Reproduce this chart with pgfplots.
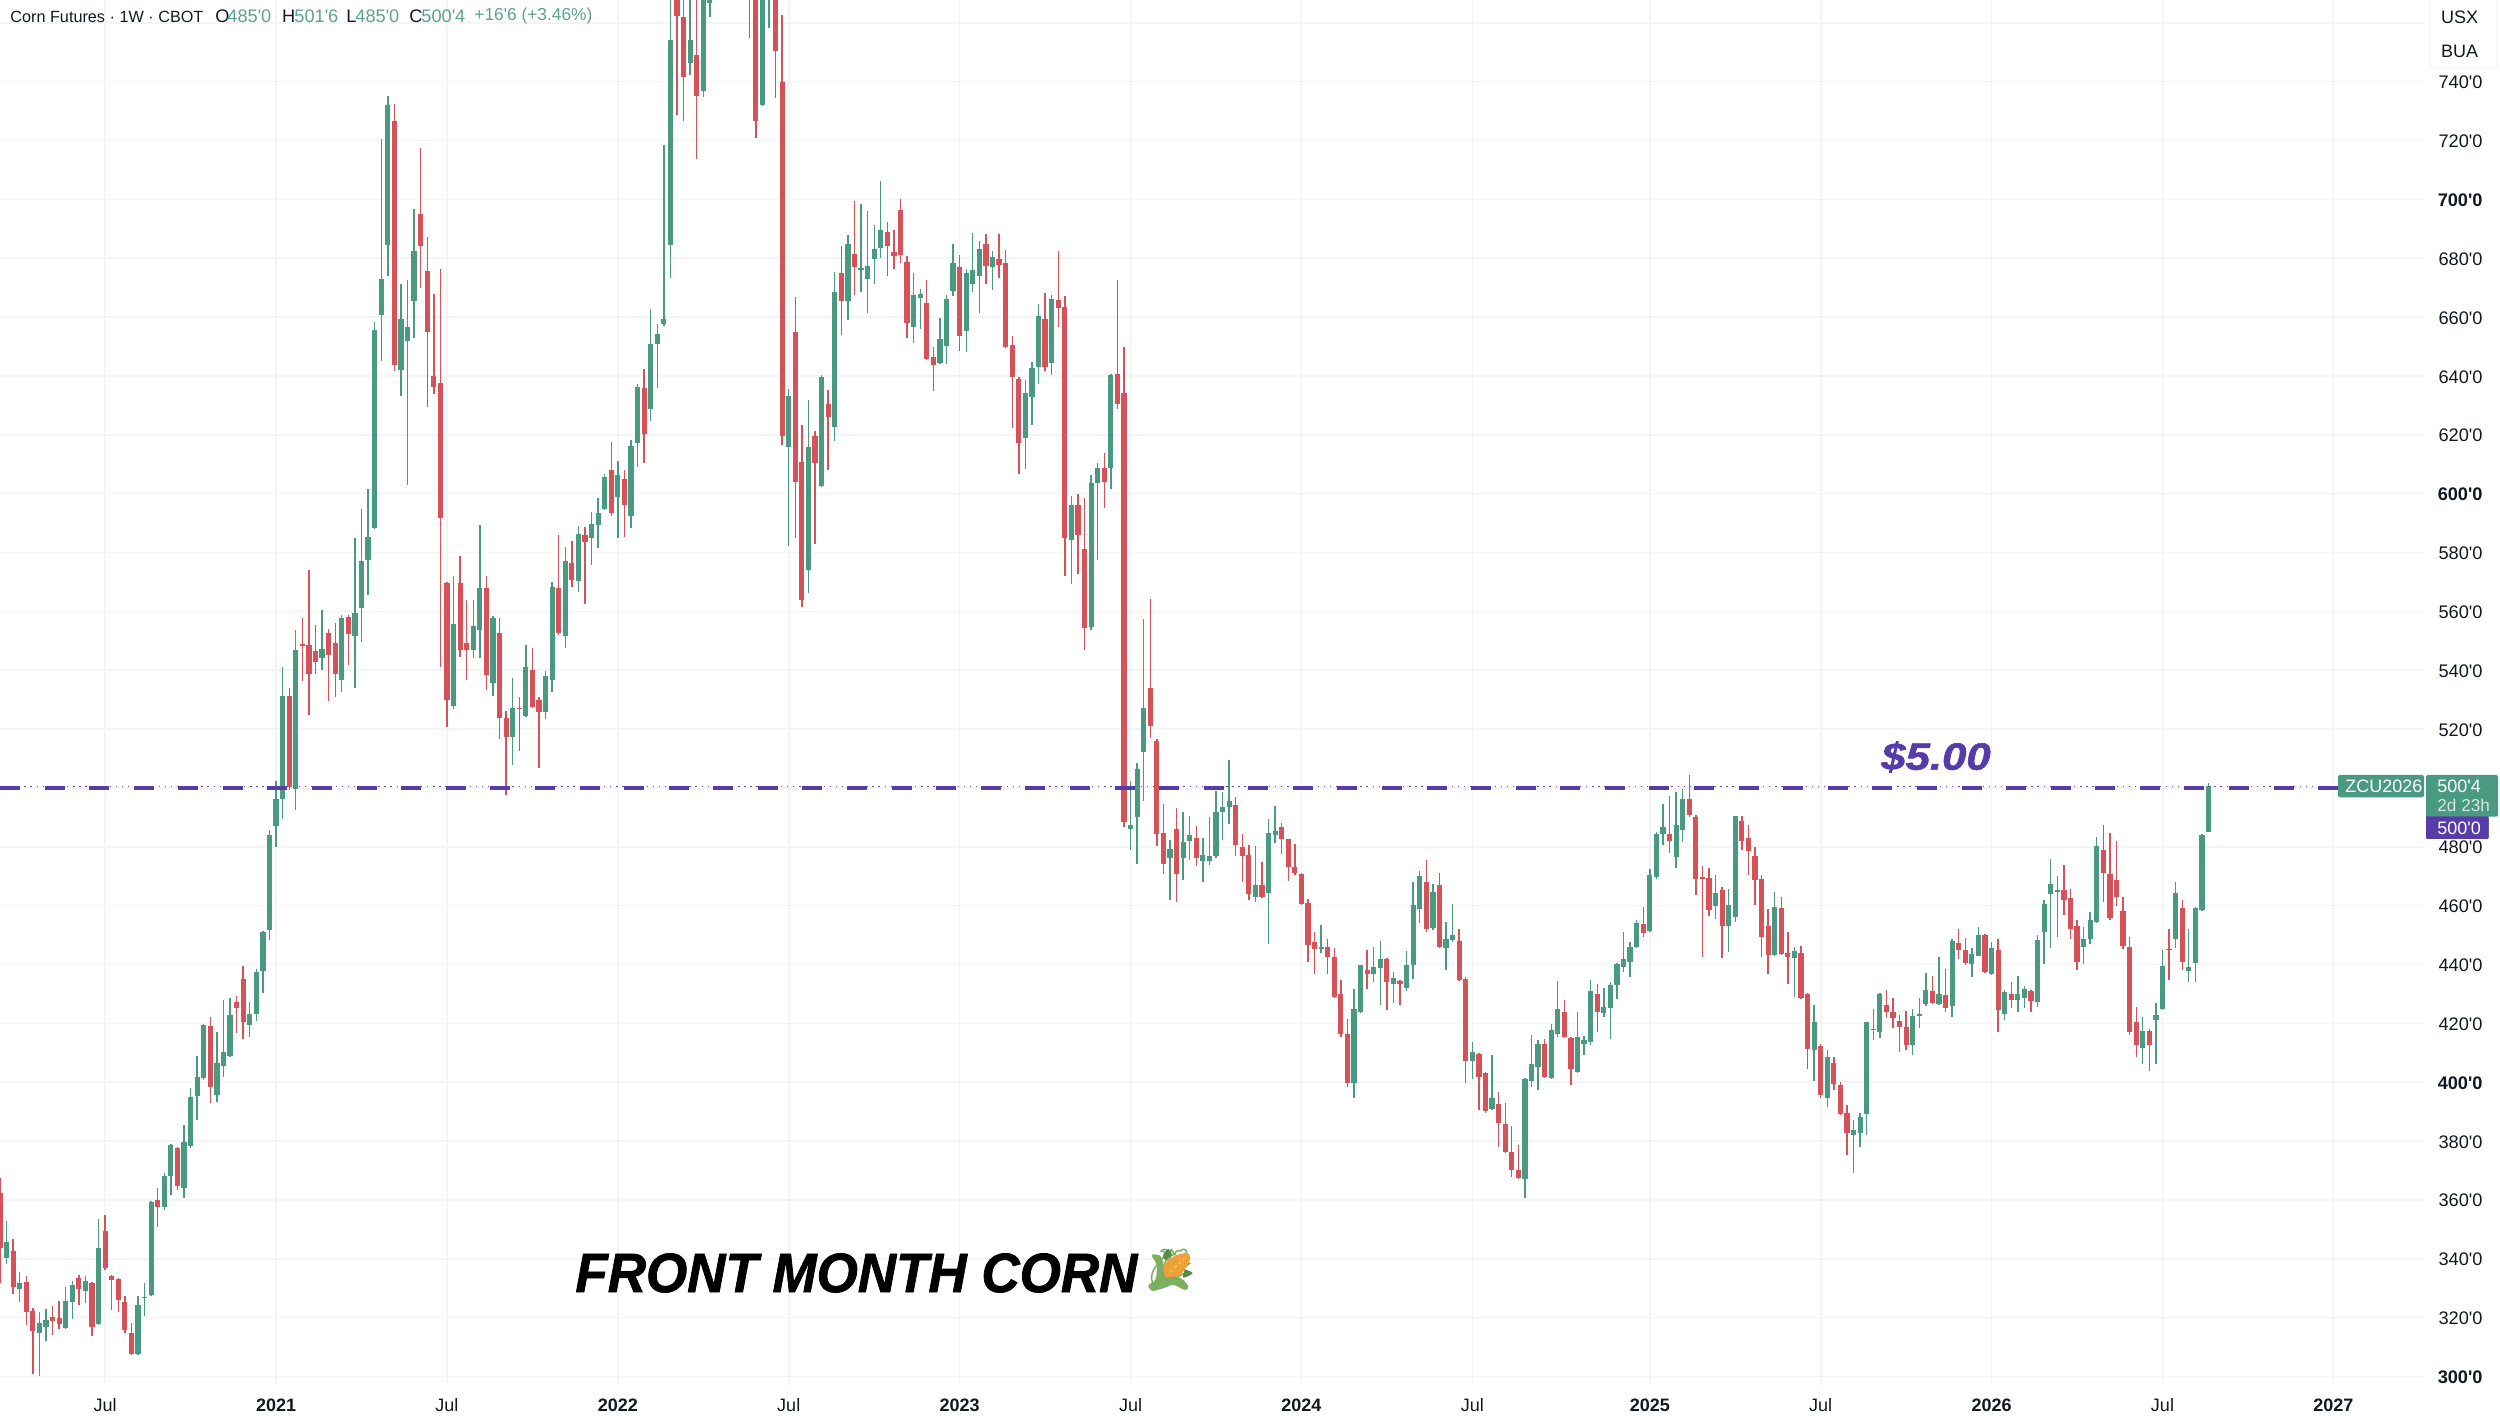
\documentclass[border=0pt]{standalone}
\usepackage{fontspec}
\usepackage{graphicx}
\usepackage{pgfplots}
\usepackage{pgfplotstable}
\pgfplotsset{compat=1.18}
\newfontfamily\lib{Liberation Sans}
\newfontfamily\heavy{Liberation Sans}[BoldItalicFeatures={FakeBold=1.4}]
\newfontfamily\emo{Noto Emoji}
\definecolor{upc}{RGB}{74,153,129}
\definecolor{dnc}{RGB}{214,82,88}
\definecolor{gridc}{RGB}{243,244,246}
\definecolor{purp}{RGB}{86,60,168}
\definecolor{inkc}{RGB}{19,23,34}
\definecolor{hdrg}{RGB}{92,162,141}
\definecolor{husk}{RGB}{124,176,96}
\definecolor{huskd}{RGB}{88,140,70}
\definecolor{ear}{RGB}{238,160,60}
\pgfplotstableread{
i o h l c
1 340.1 352.7 338.2 345.7
3 329.6 335.4 325.4 331.6
6 314.6 322 300.3 318.3
7 316.7 322.8 312.2 319.2
10 316.4 330.5 316 325.7
11 325.4 332.4 319.4 331.1
13 329 334.3 324.9 332.4
15 317.8 353.5 317.4 343.7
21 307.5 327.4 307.3 324.4
22 326.5 331.9 320.5 327
23 327.7 359.6 327.5 359.3
25 357.7 369.3 356.5 368.2
26 368.1 379 361.7 378.6
28 364 385.4 360.6 379.7
29 378.4 398.1 377.8 394.8
30 395.3 408.9 387.3 401.6
31 401.3 419.9 400.6 419.4
33 395.6 417 393.1 406.6
34 405.5 427.9 401.6 410.2
35 408.8 428.5 408.7 423
38 419.6 427.4 415.2 423.3
39 423.2 438.3 420.7 437.4
40 437.7 451.3 430.2 450.9
41 451.6 485.6 448.2 484
42 487.2 502.5 479.8 496.1
43 496.2 541.2 489.5 531.4
45 499.8 553.5 492.6 546.8
49 544 560.6 540.2 547.1
52 536.8 558.7 532.6 557.6
54 551.5 585 533.8 559.6
55 561.1 594.8 549.7 577
56 577.6 601.6 565.5 585.4
57 588.4 658.5 588 655.5
58 660.8 720.4 645.2 673.1
59 684.6 735.1 674 732.1
61 642.1 671.3 633.2 659.3
62 652 672.6 602.8 656.7
63 665.6 696.6 652.9 682.5
69 527.9 572 526.8 555.6
72 547 563.7 544 554.9
73 553.8 589.2 544 568.1
75 535.6 558.4 531.3 557.9
78 517.4 537.4 507.7 527
80 524.4 548.5 524 541.2
83 525.8 539.9 523.3 537.9
84 536.8 570 532.6 568.2
86 551.7 582 547.6 577
88 570.2 589 566.7 586.4
90 584.9 593.9 575.8 589.6
91 589.5 598.6 581.4 593.3
92 594.8 606.6 594.5 605.7
94 598.9 611 584.9 606.5
96 592.5 618.3 588.4 616.3
97 617.2 637.3 609.2 636.1
99 628.6 662.6 624.8 650.8
100 650.8 657.8 635.8 654.1
101 657.5 718.5 657 659.3
102 684.6 772 673.4 754.1
105 746.4 771 742.4 754
107 736.8 780 734.7 772
108 766.6 780 762 770
116 732 780 731.7 772
117 770 780 758.4 775
120 616 635.4 582.3 633.2
123 574.1 631.7 566.3 616
125 602.7 640.3 602.1 639.8
127 622.5 675.2 617.8 668.5
129 665.6 687.8 659.1 684.8
131 676 698.3 668.4 676.6
132 672.9 696 661.5 677.3
133 679.8 691.4 671.4 683.1
134 683.6 706.3 680.1 689.6
139 656.8 674.9 651.2 667.6
140 666.4 669.7 655.8 667.8
143 644.4 659.7 644 652.7
144 650.3 667.6 644.1 666.1
145 668.8 684.8 667.3 678.4
147 655.3 676.4 648.3 674.9
148 671.3 688.7 668.5 676.1
149 673.8 685.8 661.5 683.1
151 677 682.5 669.1 680.5
156 618.9 638.5 608.4 634.1
157 632.9 644.6 623.2 642.7
158 642.9 664.3 637.3 660.5
160 644.4 667.6 640.3 666.1
163 584.2 599.3 569.3 596.3
166 554.6 606.2 553.5 603.7
167 603.6 610.4 577.6 608.7
169 608.7 640.8 601.6 640.3
172 486 502.2 479 487.4
173 490 508.4 474.1 506.5
174 512.1 557.5 495.4 527
178 476.1 482.4 462 479.4
180 476.3 491.7 468.6 481.5
181 482 490.3 475.6 483.9
183 475.1 482.9 467.9 477.2
184 475.1 490.1 473.8 476.7
185 476.7 498.9 476.1 491.9
186 491.7 498.6 482.4 493.4
187 493.4 509.5 487.8 495.5
191 463 480.3 461.1 467
193 464.2 489.6 447 484.8
194 483.9 493.7 481.2 485.4
201 445.4 453.3 443.9 446.1
206 399.7 431.8 394.6 424.8
207 423.7 439.9 423.4 439.7
209 436.8 445.8 434 439.1
210 438.9 448 426.1 442
212 433.5 437.4 426.9 435.4
214 432.1 444.6 431 439.9
215 439.9 468.2 435 460.3
216 458.8 471.8 454.1 469.9
218 452.4 467.3 451.8 464.8
220 445.6 454.3 438.2 448.7
221 448.4 460.5 447.8 450.1
224 407.3 413.8 401.1 410.4
227 390.8 409.4 390.5 394.6
232 367 401.4 360.6 401
233 400.3 415.9 398.5 406.2
234 405.3 414.2 397.2 413
236 401.4 419.7 401.2 417.8
237 416.3 434.3 415.5 424.8
240 403.4 423.8 403.2 415.2
241 413 415.8 409.3 414.4
242 413.7 434.8 412.7 431
244 423.5 432 422.3 425.4
245 425.2 433.9 414.8 432.9
246 432.9 440.5 428.3 440.1
247 439.2 451.2 437.6 441.9
248 441 447.6 435.7 446.1
249 445.8 455 445.5 454.1
251 451.3 472.4 451 470.5
252 469.6 485.1 469.2 484.3
253 484.2 494.5 480.5 486.6
255 476.6 498.6 472.7 487.5
256 485.6 499.6 481.5 496.3
261 460 470.3 455.4 464.2
263 453.1 465.8 444.1 460.2
264 456 490.6 454.4 490.3
270 443.2 464.8 443 459.5
273 442.2 445.9 429.1 444.5
276 411 426.3 400.5 420.3
278 394.5 411 391.5 408.5
282 382.2 387 369.1 383.8
283 382.9 389.5 377.9 388.3
284 389.1 420.5 381.9 420.3
285 417.8 424.8 414.4 418.2
286 416.9 430.3 415 429.9
291 412.7 424.8 409.3 422.4
292 422.5 428.6 418.4 423.1
293 426.6 437.1 426 431.4
295 426.5 442.7 426.3 430
297 425.8 448.6 422.3 447.9
300 440.1 445.6 435.6 443.6
301 443 452.9 442.8 450
303 436.9 447.8 436.5 445.6
305 423.3 431.4 421 430.8
307 428.1 436.1 424 430
308 428.6 432.7 425.2 431.6
310 427.1 450 425.4 448.4
311 450.9 461.8 440.2 460.4
312 463.9 475.9 445.6 467.3
313 464.7 470.1 449.3 465.4
317 445.9 452.7 440.1 448.8
318 448.8 457.7 446.8 455
319 454.3 483.3 454.1 480.1
326 411.6 422.1 406.2 417.5
328 421 426.9 406.2 422.9
329 424.9 444.8 424.7 439.5
331 448.8 467.9 445.6 464.2
333 437.7 452 434.2 439.1
334 440.5 459.5 434 459.1
335 458.4 484.2 458.2 483.9
336 485 501.75 485 500.5
}\uptable
\pgfplotstableread{
i o h l c
0 362.4 367.6 331.9 343.7
2 342.7 346.6 328 330.5
4 332.2 334 317.4 322
5 322.4 323.3 300.8 315.5
8 320.3 323.9 314.2 318.9
9 319.9 325.5 316.1 317.8
12 333.5 334.6 324.4 329.7
14 331.9 332.2 313.6 316.7
16 349.3 354.9 336.2 336.8
17 334.3 334.5 322.5 332.7
18 333 333.5 322 326
19 325.2 327.2 314.6 315.8
20 314.9 318.3 307.3 307.5
24 359.8 364 350.9 357.7
27 377.5 378.1 363.2 364.8
32 419.1 422.2 393 398.3
36 427.4 429.4 416.6 425.2
37 435.1 439.4 414.6 420.3
44 531.4 534 499.4 500.2
46 548.8 557.8 536.4 548.3
47 548.7 574 524.7 538.6
48 546.7 555.3 538.6 542.7
50 552.6 554.1 529.4 545.3
51 549.3 556 531 538.6
53 558.1 558.7 541.7 552.3
60 726.5 732.4 641.8 643.6
64 694.9 717.4 669.9 684.3
65 675.7 687.3 629.4 655
66 640 668 634 636.2
67 637.6 676.3 541 591.7
68 569.7 570 520.8 530
70 569.7 578.7 544.4 547
71 549.1 563.7 536.8 546.8
74 568.1 572 533.3 538.3
76 552.7 557.9 516.6 523.9
77 523.9 526.1 497.7 517.4
79 527.3 531 512.7 526.8
81 540.2 547.4 527 527.5
82 530 531 506.9 525.7
85 567.9 586 552 552.6
87 576.3 583.9 568.2 570.8
89 586 588.7 562.6 583.7
93 608.1 617.5 592.5 593.3
95 605.1 608 585.4 596.3
98 635.8 642.3 610.4 620.3
103 772 780 728.6 762.3
104 762 772 726.8 741.5
106 749 771 713.6 735
114 775 780 755 770
115 772 780 720.7 726.8
118 772 780 734.4 750.3
119 739.8 762.5 616.5 619.5
121 654.9 666.9 584.9 603.9
122 610.6 623.3 561.4 564
124 619.5 621.3 583 610.3
126 630.3 635.3 608.1 625.9
128 674.9 684 654 665.6
130 681.3 699.3 667.5 677
135 689 692.2 674 684
136 682 689.5 676.3 680.7
137 696.3 700 678.5 681
138 678.8 680.7 652.9 657.9
141 664.7 672.5 645.5 645.9
142 646.4 649.7 635 643.8
146 677 681 648.5 653.7
150 684.8 688.4 671.4 677.3
152 679.8 688.1 673.2 677.6
153 678.4 682.8 649.7 650
154 650.5 653.7 622.4 639.5
155 638.8 639.5 606.8 617.1
159 659.3 668.2 641.8 643
161 665.8 682.3 656.5 663.2
162 663.4 667.3 572 584.9
164 596.3 599.8 572.6 586
165 581.1 598.6 547 554.3
168 608.7 613.7 595.1 603.9
170 640.6 672.5 628.9 630.4
171 634.2 649.7 486.7 488.3
175 533.8 564.1 516.8 520.9
176 516.1 516.5 480.1 484.2
177 484.6 494.6 470.7 474.3
179 485.9 493.1 461.1 470.6
182 482.9 486.9 473.3 476.1
188 494.2 496.9 477 480.5
189 480 484.3 468.1 477
190 477.3 480.6 461.8 463.9
192 467 474.8 462.7 463
195 486.7 488 477.5 482.8
196 482.5 482.7 468.3 473
197 473 481 470.5 471
198 470.6 471 460.3 460.5
199 460.9 462.4 441 446.7
200 447.7 451.2 436.8 445.4
202 446.1 448.8 436.7 442.7
203 442.7 445.6 428.6 428.8
204 430 434.6 415.2 416.4
205 416.3 421.4 398.5 399.7
208 438.2 445 431.8 436.7
211 442 442.2 424.4 434.1
213 434.4 434.8 426.2 433.4
217 468.1 475.6 451.2 452
219 467.1 471 445.7 445.9
222 448 452 434.4 434.8
223 435 435.9 399.7 407.3
225 409.5 410 390.6 401.7
226 403.1 403.3 389.7 390.3
228 392.6 396.8 378.1 386.3
229 385.8 392.9 376 376.4
230 376.2 385.2 367.7 370.2
231 370.2 378.5 367.2 367.4
235 413 414.7 401.4 401.6
238 423.8 428 415.3 415.5
239 415 415.3 399 404.5
243 429.9 433.4 417.1 423.9
250 453.8 459.7 449.3 450.7
254 484.4 497.3 477.8 481.8
257 496.3 504.5 490.1 490.9
258 490.1 490.9 463.7 469.2
259 469.7 473.3 442.7 469
260 469.3 472.7 456.5 458.6
262 465.2 466.3 442.2 453.1
265 488.8 490.3 479 482
266 483.1 487.4 470.5 478.6
267 477 479.9 460.3 468.8
268 469 470.5 442.5 449.4
269 453.1 458.8 436.7 443.3
271 459.1 462.9 443.2 443.6
272 443.9 451 433.5 442.4
274 443.9 446.3 428.6 428.7
275 429.9 430.2 404.4 411.3
277 412.4 413 394.7 395.8
279 406.5 408.7 397.4 399.4
280 398.9 399.9 389.1 389.2
281 389.5 392.3 375.1 382.8
287 426.3 431.4 421.8 423.7
288 423.9 428.6 418.4 421.9
289 420.8 422.9 410.4 418.7
290 418.9 424.2 411 412.7
294 430.9 436.1 426.6 426.9
296 429.7 438.4 424 425.3
298 447.3 452.1 441.8 444.8
299 444.8 449 439.9 440.5
302 450.1 450.4 437 437.3
304 445 448.7 417.2 424.6
306 429.9 434 425.3 428.1
309 431 431.4 423.9 427.5
314 465.2 473.7 456.7 462
315 462.7 465.6 448.6 452.1
316 453 455 438.2 440.8
320 479 487.5 461.1 471
321 470.9 484.6 455.2 455.8
322 468.8 481.8 460 463.1
323 458.1 463.1 445.4 446.3
324 445.9 449.3 416.1 417.2
325 420.5 425.7 408.5 412.7
327 417.5 418.1 403.9 412.5
330 445.3 452 434.8 445
332 459.1 462 438 440.7
}\downtable
\pgfplotsset{
  wick/.style={draw=none,mark=none,forget plot,
    error bars/.cd,y dir=both,y explicit,error mark=none,
    error bar style={solid,color=#1,line width=0.7pt}},
  body/.style={draw=none,mark=none,forget plot,
    error bars/.cd,y dir=minus,y explicit,error mark=none,
    error bar style={solid,color=#1,line width=2.6pt}}
}
\begin{document}
\begin{tikzpicture}
\useasboundingbox (0,0) rectangle (1250pt,711pt);
\begin{axis}[
  at={(0,18.5pt)},anchor=south west,
  scale only axis,width=1212pt,height=692.5pt,
  xmin=0,xmax=368.78,ymin=297.1,ymax=767.77,
  axis line style={draw=none},
  major tick length=0pt,
  tick style={draw=none},
  grid=major,
  grid style={gridc,line width=0.8pt},
  xtick={16,42,68,94,120,146,172,198,224,251,277,303,329,355},
  xticklabels={Jul,\textbf{2021},Jul,\textbf{2022},Jul,\textbf{2023},Jul,\textbf{2024},Jul,\textbf{2025},Jul,\textbf{2026},Jul,\textbf{2027}},
  ytick={300,320,340,360,380,400,420,440,460,480,520,540,560,580,600,620,640,660,680,700,720,740},
  yticklabels={\textbf{300'0},320'0,340'0,360'0,380'0,\textbf{400'0},420'0,440'0,460'0,480'0,520'0,540'0,560'0,580'0,\textbf{600'0},620'0,640'0,660'0,680'0,\textbf{700'0},720'0,740'0},
  extra y ticks={500,760},
  extra y tick labels={},
  yticklabel pos=right,
  yticklabel style={font=\lib\fontsize{9.1pt}{10pt}\selectfont,text=inkc,anchor=east,inner sep=0pt,xshift=29.5pt,yshift=-0.4pt},
  xticklabel style={font=\lib\fontsize{9pt}{10pt}\selectfont,text=inkc,anchor=center,inner sep=0pt,yshift=-10pt},
  clip=true,
]
\addplot[wick=upc] table[x=i,y=c,y error plus expr=\thisrow{h}-\thisrow{c},y error minus expr=\thisrow{c}-\thisrow{l}] {\uptable};
\addplot[wick=dnc] table[x=i,y=c,y error plus expr=\thisrow{h}-\thisrow{c},y error minus expr=\thisrow{c}-\thisrow{l}] {\downtable};
\addplot[body=upc] table[x=i,y=c,y error minus expr=\thisrow{c}-\thisrow{o}] {\uptable};
\addplot[body=dnc] table[x=i,y=o,y error minus expr=\thisrow{o}-\thisrow{c}] {\downtable};
\addplot[forget plot,mark=none,color=purp!70!gray,line width=0.6pt,dash pattern=on 0.7pt off 2.35pt] coordinates {(0,500.5) (355.7,500.5)};
\addplot[forget plot,mark=none,color=purp,line width=2.1pt,dash pattern=on 10pt off 12.29pt] coordinates {(0,500) (355.7,500)};
\end{axis}
\begin{scope}[shift={(0,711pt)},x=0.5pt,y=-0.5pt]
  \tikzset{hdr/.style={anchor=west,inner sep=0pt,font=\lib\fontsize{9.1pt}{10pt}\selectfont}}
  \node[hdr,text=inkc] at (10,16.5) {\resizebox{96.5pt}{!}{Corn Futures · 1W · CBOT}};
  \node[hdr,text=inkc] at (215,16.5) {O};
  \node[hdr,text=hdrg] at (227,16.5) {485'0};
  \node[hdr,text=inkc] at (281.6,16.5) {H};
  \node[hdr,text=hdrg] at (294,16.5) {501'6};
  \node[hdr,text=inkc] at (346,16.5) {L};
  \node[hdr,text=hdrg] at (355,16.5) {485'0};
  \node[hdr,text=inkc] at (409,16.5) {C};
  \node[hdr,text=hdrg] at (421,16.5) {500'4};
  \node[hdr,text=hdrg] at (474,16.5) {\resizebox{59pt}{!}{+16'6 (+3.46\%)}};
  \draw[gridc,fill=white,rounded corners=2pt,line width=0.5pt] (2430,-3) rectangle (2497,68);
  \node[font=\lib\fontsize{9pt}{10pt}\selectfont,text=inkc] at (2459.5,17) {USX};
  \node[font=\lib\fontsize{9pt}{10pt}\selectfont,text=inkc] at (2459.5,51) {BUA};
  \fill[upc,rounded corners=1pt] (2338,775) rectangle (2424,797.3);
  \node[font=\lib\fontsize{9pt}{10pt}\selectfont,text=white,anchor=west,inner sep=0pt] at (2345,786) {ZCU2026};
  \fill[purp,rounded corners=1pt] (2426,812) rectangle (2488.7,839);
  \fill[upc,rounded corners=1pt] (2426,775) rectangle (2498,816.7);
  \fill[purp,rounded corners=1pt] (2426,816.7) rectangle (2488.7,839);
  \node[font=\lib\fontsize{9pt}{10pt}\selectfont,text=white,anchor=west,inner sep=0pt] at (2437,786) {500'4};
  \node[font=\lib\fontsize{8.6pt}{10pt}\selectfont,text=white!75!upc,anchor=west,inner sep=0pt] at (2437,805) {2d 23h};
  \node[font=\lib\fontsize{9pt}{10pt}\selectfont,text=white,anchor=west,inner sep=0pt] at (2437,828) {500'0};
  \node[anchor=center,inner sep=0pt,text=purp,font=\heavy\bfseries\itshape\fontsize{19pt}{22pt}\selectfont] at (1936,757) {\scalebox{1.15}[1]{\$5.00}};
  \node[anchor=west,inner sep=0pt,text=black,font=\heavy\bfseries\itshape] at (575,1273) {\resizebox{281pt}{19.35pt}{FRONT MONTH CORN}};
  \node[anchor=center,inner sep=0pt,text=husk,font=\emo\fontsize{21pt}{22pt}\selectfont] at (1170,1270) {🌽};
  \fill[huskd] plot[smooth cycle] coordinates {(1168.3,1249) (1171.7,1255) (1165,1260) (1163.3,1255)};
  \fill[huskd] plot[smooth cycle] coordinates {(1192.7,1273.3) (1183.3,1277.7) (1185,1270)};
  \fill[ear] plot[smooth cycle] coordinates {(1188.3,1253.3) (1189.3,1261.7) (1180,1275) (1166.7,1280) (1161.7,1271.7) (1166.7,1261.7) (1176.7,1255)};
  \draw[ear!60!yellow,line width=0.9pt,dash pattern=on 1.5pt off 1.5pt] (1170,1272) -- (1185,1258);
  \fill[husk] plot[smooth cycle] coordinates {(1151.7,1255) (1160,1255.7) (1163.3,1263.3) (1165,1276.7) (1176.7,1276.7) (1183.3,1280) (1188.3,1286.7) (1185,1290) (1173.3,1285) (1163.3,1288.3) (1153.3,1290.7) (1149,1286.7) (1156,1278.3) (1156.7,1265)};
\end{scope}
\end{tikzpicture}
\end{document}
